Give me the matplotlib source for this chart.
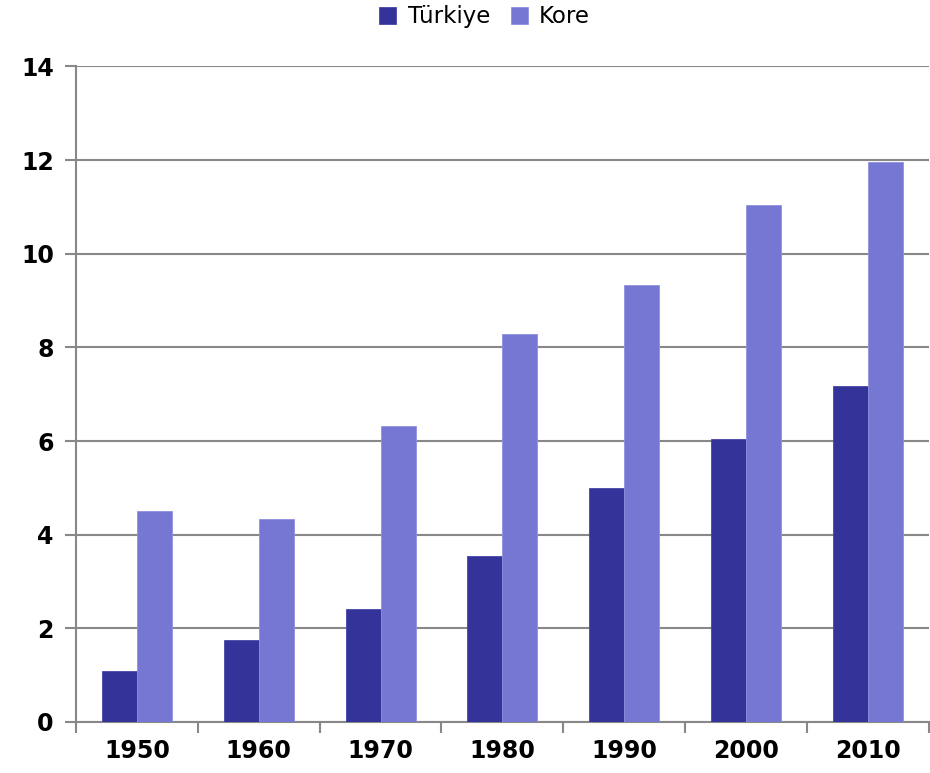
import numpy as np
import matplotlib.pyplot as plt

# veriler
years = ["1950", "1960", "1970", "1980", "1990", "2000", "2010"]
turkiye = [1.09, 1.75, 2.42, 3.55, 5.0, 6.05, 7.18]
kore = [4.51, 4.34, 6.33, 8.29, 9.34, 11.05, 11.95]
yticks = [0, 2, 4, 6, 8, 10, 12, 14]

fig = plt.figure(figsize=(9.3, 7.73), dpi=100)
ax = fig.add_axes([0.0817, 0.066, 0.917, 0.848])

x = np.arange(len(years))
w = 0.287
ax.bar(x - w / 2, turkiye, w, color="#333399", edgecolor="#4646a8", linewidth=0.6,
       label="Türkiye", zorder=3)
ax.bar(x + w / 2, kore, w, color="#7676d3", edgecolor="#9090e0", linewidth=0.6,
       label="Kore", zorder=3)

ax.set_xlim(-0.5, len(years) - 0.5)
ax.set_ylim(0, 14)
ax.set_yticks(yticks)
ax.set_yticklabels([str(v) for v in yticks], fontsize=17, fontweight="bold")
ax.set_xticks(x)
ax.set_xticklabels(years, fontsize=17, fontweight="bold")
ax.set_xticks(np.arange(len(years) + 1) - 0.5, minor=True)
ax.tick_params(axis="x", which="major", length=0, pad=12)
ax.tick_params(axis="x", which="minor", length=8, color="#888888", width=1.5)
ax.tick_params(axis="y", length=8, color="#888888", width=1.5, pad=8)

ax.grid(axis="y", color="#888888", linewidth=1.5, zorder=0)
for s in ["top", "right"]:
    ax.spines[s].set_visible(False)
for s in ["left", "bottom"]:
    ax.spines[s].set_color("#888888")
    ax.spines[s].set_linewidth(1.5)

fig.legend(loc="upper center", bbox_to_anchor=(0.521, 1.02), ncol=2, frameon=False,
           fontsize=16.5, handlelength=0.75, handleheight=0.75, handletextpad=0.5,
           columnspacing=0.9)

fig.savefig("out.png", dpi=100)
